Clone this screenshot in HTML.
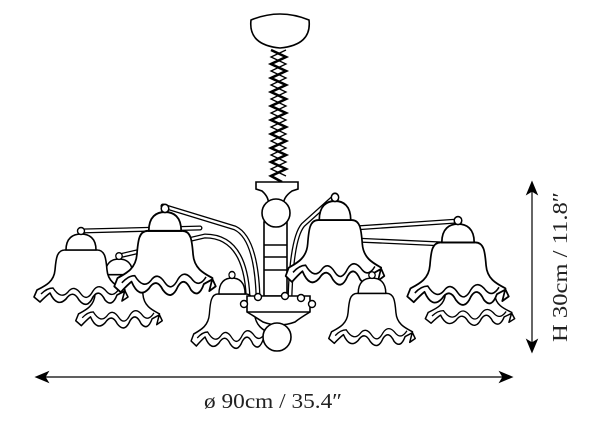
<!DOCTYPE html>
<html><head><style>
html,body{margin:0;padding:0;background:#fff;}
svg{display:block;}
</style></head><body>
<svg width="600" height="427" viewBox="0 0 600 427" xmlns="http://www.w3.org/2000/svg">
<defs>
<g id="shade">
  <path d="M-16,16 C-24,16 -25,24 -26,36 C-27,48 -36,52 -44,56 L-47,63 L-41,68 Q-35,62 -31,59 Q-24,74 -15,65 Q-8,55 -2,66 Q6,76 12,63 Q18,54 24,66 Q31,74 36,61 L44,57 L47,63 L41,67 L44,56 C36,52 27,48 26,36 C25,24 24,16 16,16 Z" fill="#fff" stroke="#000" stroke-width="1.6" stroke-linejoin="round"/>
  <path d="M-40,60 Q-34,54 -28,54 Q-20,66 -13,58 Q-7,50 0,60 Q6,68 12,57 Q18,48 26,58 Q32,64 38,55" fill="none" stroke="#000" stroke-width="1.4"/>
  <path d="M-15,16 C-15,4 -8,0 0,0 C8,0 15,4 15,16 Z" fill="#fff" stroke="#000" stroke-width="1.6"/>
  <circle cx="0" cy="-3" r="3.5" fill="#fff" stroke="#000" stroke-width="1.4"/>
</g>
</defs>
<g fill="none" stroke-linecap="round">
  <g stroke="#000" stroke-width="5">
    <path d="M81,231 L200,228"/>
    <path d="M163,206 L235,228 Q256,238 258,296"/>
    <path d="M119,256 L205,236 Q245,236 248,296"/>
    <path d="M333,198 L303,225 Q292,238 290,296"/>
    <path d="M458,221 L355,228"/>
    <path d="M465,245 L355,240"/>
  </g>
  <g stroke="#fff" stroke-width="2.4">
    <path d="M81,231 L200,228"/>
    <path d="M163,206 L235,228 Q256,238 258,296"/>
    <path d="M119,256 L205,236 Q245,236 248,296"/>
    <path d="M333,198 L303,225 Q292,238 290,296"/>
    <path d="M458,221 L355,228"/>
    <path d="M465,245 L355,240"/>
  </g>
</g>
<!-- canopy & chain -->
<path d="M251,20 Q280,8 309,20 Q312,45 280,48 Q248,45 251,20 Z" fill="#fff" stroke="#000" stroke-width="1.6"/>
<path d="M271,50 L286,57 L271,64 L286,71 L271,78 L286,85 L271,92 L286,99 L271,106 L286,113 L271,120 L286,127 L271,134 L286,141 L271,148 L286,155 L271,162 L286,169 L271,176 L282,182" fill="none" stroke="#000" stroke-width="2.6"/>
<path d="M286,50 L271,57 L286,64 L271,71 L286,78 L271,85 L286,92 L271,99 L286,106 L271,113 L286,120 L271,127 L286,134 L271,141 L286,148 L271,155 L286,162 L271,169 L286,176" fill="none" stroke="#000" stroke-width="1.3"/>
<!-- back shades -->
<use href="#shade" transform="translate(119,259) scale(0.92,0.98)"/>
<use href="#shade" transform="translate(470,262) scale(0.95,0.9)"/>
<use href="#shade" transform="translate(81,234) scale(1.0,1.0)"/>
<use href="#shade" transform="translate(458,224) scale(1.08,1.15)"/>
<!-- body -->
<path d="M256,182 L298,182 L298,189 L292,191 Q282,198 284,206 L268,206 Q270,198 262,191 L256,189 Z" fill="#fff" stroke="#000" stroke-width="1.6"/>
<rect x="264" y="222" width="23" height="74" fill="#fff" stroke="#000" stroke-width="1.6"/>
<line x1="264" y1="245" x2="287" y2="245" stroke="#000" stroke-width="1.5"/>
<line x1="264" y1="257" x2="287" y2="257" stroke="#000" stroke-width="1.5"/>
<line x1="264" y1="270" x2="287" y2="270" stroke="#000" stroke-width="1.5"/>
<circle cx="276" cy="213" r="14" fill="#fff" stroke="#000" stroke-width="1.6"/>
<use href="#shade" transform="translate(165,212) scale(1.08,1.18)"/>
<use href="#shade" transform="translate(335,201) scale(1.05,1.19)"/>
<use href="#shade" transform="translate(232,278) scale(0.87,1.0)"/>
<use href="#shade" transform="translate(372,278) scale(0.92,0.96)"/>
<path d="M247,296 L310,296 L310,312 Q300,318 295,322 Q279,328 263,322 Q257,318 247,312 Z" fill="#fff" stroke="#000" stroke-width="1.6"/>
<line x1="247" y1="312" x2="310" y2="312" stroke="#000" stroke-width="1.5"/>
<g fill="#fff" stroke="#000" stroke-width="1.4">
<circle cx="244" cy="304" r="3.5"/><circle cx="258" cy="297" r="3.5"/><circle cx="285" cy="296" r="3.5"/><circle cx="301" cy="298" r="3.5"/><circle cx="312" cy="304" r="3.5"/>
</g>
<circle cx="277" cy="337" r="14" fill="#fff" stroke="#000" stroke-width="1.6"/>
<!-- dimensions -->
<g stroke="#000" stroke-width="1.2" fill="#000">
<line x1="40" y1="377" x2="508" y2="377"/>
<path d="M36,377 L48,372 L45,377 L48,382 Z"/>
<path d="M512,377 L500,372 L503,377 L500,382 Z"/>
<line x1="532" y1="186" x2="532" y2="348"/>
<path d="M532,182 L527,194 L532,191 L537,194 Z"/>
<path d="M532,352 L527,340 L532,343 L537,340 Z"/>
</g>
<text x="204" y="408" textLength="138" lengthAdjust="spacingAndGlyphs" font-family="Liberation Serif, serif" font-size="21" fill="#222">ø 90cm / 35.4″</text>
<text transform="translate(567,342) rotate(-90)" textLength="150" lengthAdjust="spacingAndGlyphs" font-family="Liberation Serif, serif" font-size="21" fill="#222">H 30cm / 11.8″</text>
</svg>
</body></html>
